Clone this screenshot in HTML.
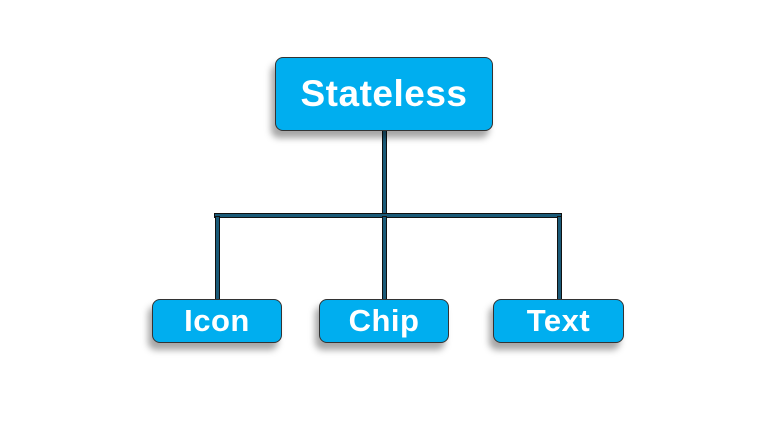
<!DOCTYPE html>
<html><head><style>
body{margin:0;width:770px;height:433px;background:#fff;position:relative;overflow:hidden;font-family:"Liberation Sans",sans-serif}
.b{position:absolute;background:#00aeef;border:1.5px solid #333;border-radius:8px;box-sizing:border-box;color:#fff;font-weight:bold;display:flex;align-items:center;justify-content:center;box-shadow:-4px 7px 7px rgba(0,0,0,0.35)}
.l{position:absolute;background:#1a5a78;border:1px solid #111;box-sizing:border-box}
</style></head><body>
<div class="l" style="left:382px;top:128px;width:5px;height:90px"></div>
<div class="l" style="left:214px;top:213px;width:348px;height:5px"></div>
<div class="l" style="left:215px;top:216px;width:5px;height:86px"></div>
<div class="l" style="left:382px;top:216px;width:5px;height:88px"></div>
<div class="l" style="left:557px;top:216px;width:5px;height:86px"></div>
<div class="b" style="left:275px;top:57px;width:218px;height:74px;font-size:37px;letter-spacing:0.5px">Stateless</div>
<div class="b" style="left:152px;top:299px;width:130px;height:44px;font-size:31px;letter-spacing:0.5px">Icon</div>
<div class="b" style="left:319px;top:299px;width:130px;height:44px;font-size:31px;letter-spacing:0.5px">Chip</div>
<div class="b" style="left:493px;top:299px;width:131px;height:44px;font-size:31px;letter-spacing:0.5px">Text</div>
</body></html>
